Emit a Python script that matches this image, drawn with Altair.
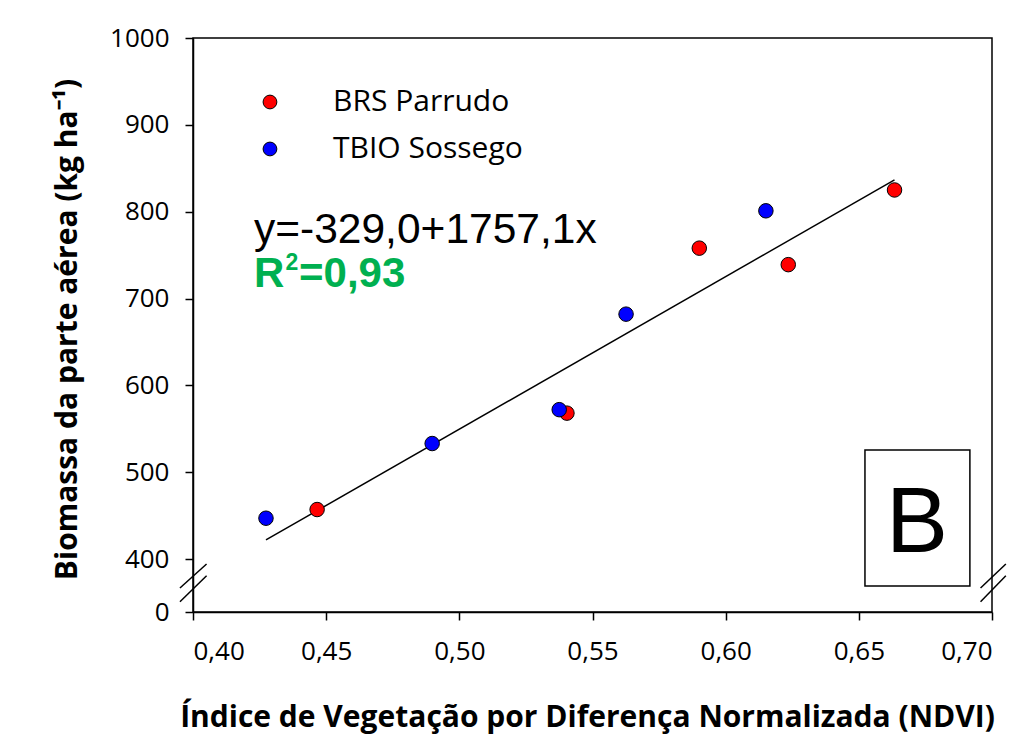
import altair as alt
import pandas as pd

# --- data -------------------------------------------------------------------
cultivars = ["BRS Parrudo", "TBIO Sossego"]
colors = ["#FF0000", "#0000FF"]

ndvi_parrudo = [0.4466, 0.5404, 0.5901, 0.6235, 0.6634]
biom_parrudo = [457, 568, 758, 739, 825]
ndvi_sossego = [0.4274, 0.4898, 0.5375, 0.5626, 0.6151]
biom_sossego = [447, 533, 572, 682, 801]

fit_x = [0.4274, 0.6634]
fit_y = [422.0, 836.6]

x_ticks = [0.40, 0.45, 0.50, 0.55, 0.60, 0.65, 0.70]
y_ticks = [339, 400, 500, 600, 700, 800, 900, 1000]  # 339 is the broken-axis "0"

equation_text = "y=-329,0+1757,1x"
r2_text = ["R", "2", "=0,93"]
panel_letter = "B"

x_title = "Índice de Vegetação por Diferença Normalizada (NDVI)"
y_title = "Biomassa da parte aérea (kg ha⁻¹)"

# --- tables -------------------------------------------------------------------
pts = pd.DataFrame(
    {
        "x": ndvi_parrudo + ndvi_sossego,
        "y": biom_parrudo + biom_sossego,
        "cultivar": [cultivars[0]] * len(ndvi_parrudo) + [cultivars[1]] * len(ndvi_sossego),
    }
)
fit = pd.DataFrame({"x": fit_x, "y": fit_y})
legend_df = pd.DataFrame(
    {"x": [0.4289, 0.4289], "y": [926.3, 872.2], "tx": [0.4526, 0.4526], "cultivar": cultivars}
)
breaks = pd.DataFrame(
    {
        "x": [0.3951, 0.3951, 0.6957, 0.6957],
        "x2": [0.4051, 0.4051, 0.7052, 0.7052],
        "y": [366.6, 350.9, 366.6, 350.9],
        "y2": [394.3, 380.8, 394.3, 380.8],
    }
)
box = pd.DataFrame({"x": [0.6523], "x2": [0.6917], "y": [369.0], "y2": [525.5]})

xs = alt.Scale(domain=[0.40, 0.70], nice=False, zero=False)
ys = alt.Scale(domain=[339, 1000], nice=False, zero=False)
fill = alt.Fill("cultivar:N", scale=alt.Scale(domain=cultivars, range=colors), legend=None)

x_axis = alt.Axis(
    values=x_ticks,
    labelExpr="replace(format(datum.value, '.2f'), '.', ',')",
    title=x_title,
    titleX=394,
    titleY=114,
    titleBaseline="alphabetic",
    labelPadding=18,
)
y_axis = alt.Axis(
    values=y_ticks,
    labelExpr="datum.value < 350 ? '0' : format(datum.value, 'd')",
    title=y_title,
    titleX=-117,
    titleY=291,
    titleBaseline="alphabetic",
    labelPadding=16,
)

X = alt.X("x:Q", scale=xs, axis=x_axis)
Y = alt.Y("y:Q", scale=ys, axis=y_axis)

points = (
    alt.Chart(pts)
    .mark_point(filled=True, size=210, stroke="black", strokeWidth=1, opacity=1)
    .encode(x=X, y=Y, fill=fill)
)

line = alt.Chart(fit).mark_line(color="black", strokeWidth=1.5).encode(x=X, y=Y)

leg_dots = (
    alt.Chart(legend_df)
    .mark_point(filled=True, size=190, stroke="black", strokeWidth=1, opacity=1)
    .encode(x=X, y=Y, fill=fill)
)
leg_text = (
    alt.Chart(legend_df)
    .mark_text(align="left", baseline="middle", font="Open Sans", fontSize=30, color="black")
    .encode(x=alt.X("tx:Q", scale=xs, axis=x_axis), y=Y, text="cultivar:N")
)

eq = (
    alt.Chart(pd.DataFrame({"x": [0.4229], "y": [764.0], "t": [equation_text]}))
    .mark_text(align="left", baseline="alphabetic", font="Liberation Sans", fontSize=42.5, color="black")
    .encode(x=X, y=Y, text="t:N")
)
r2_df = pd.DataFrame(
    {"x": [0.4229, 0.4347, 0.4398], "y": [713.6, 732.8, 713.6], "t": r2_text, "s": [42, 23, 42]}
)
r2 = (
    alt.Chart(r2_df)
    .mark_text(align="left", baseline="alphabetic", font="Liberation Sans", fontWeight="bold", color="#00B050")
    .encode(x=X, y=Y, text="t:N", size=alt.Size("s:Q", scale=None, legend=None))
)

rect = (
    alt.Chart(box)
    .mark_rect(fill="white", stroke="black", strokeWidth=1.5)
    .encode(x=X, x2="x2:Q", y=Y, y2="y2:Q")
)
letter = (
    alt.Chart(pd.DataFrame({"x": [0.6718], "y": [408.4], "t": [panel_letter]}))
    .mark_text(align="center", baseline="alphabetic", font="Liberation Sans", fontSize=93, color="black")
    .encode(x=X, y=Y, text="t:N")
)

slashes = (
    alt.Chart(breaks)
    .mark_rule(color="black", strokeWidth=1.5)
    .encode(x=X, x2="x2:Q", y=Y, y2="y2:Q")
)

chart = (
    alt.layer(line, rect, letter, slashes, points, leg_dots, leg_text, eq, r2)
    .properties(
        width=799,
        height=574,
        autosize=alt.AutoSizeParams(type="none"),
        padding={"left": 185, "top": 30, "right": 20, "bottom": 124},
        background="white",
    )
    .configure_view(stroke="black", strokeWidth=1.5)
    .configure_axis(
        grid=False,
        domainColor="black",
        domainWidth=1.5,
        tickColor="black",
        tickWidth=1.5,
        tickSize=8,
        labelFont="Open Sans",
        labelFontSize=26,
        labelColor="black",
        titleFont="Open Sans",
        titleFontSize=30,
        titleFontWeight="bold",
        titleColor="black",
    )
)

chart.save("out.html", embed_options={"renderer": "svg", "actions": False})
